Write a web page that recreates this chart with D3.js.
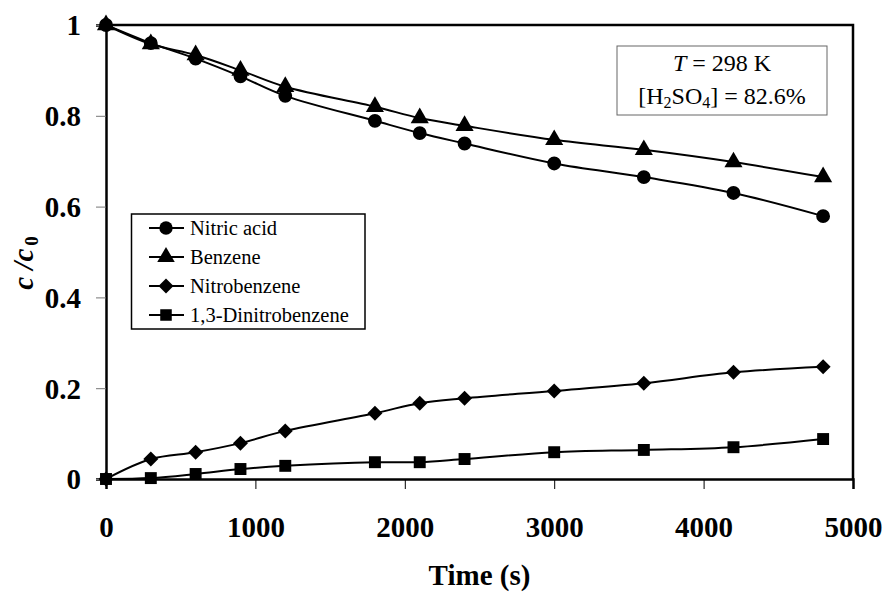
<!DOCTYPE html>
<html>
<head>
<meta charset="utf-8">
<script src="https://cdn.jsdelivr.net/npm/d3@7"></script>
<style>
  body { margin: 0; background: #fff; }
  svg text { font-family: 'Liberation Serif', 'Times New Roman', Times, 'DejaVu Serif', serif; }
</style>
</head>
<body>
<svg id="chart" width="886" height="593"></svg>
<script>
const times = [0, 300, 600, 900, 1200, 1800, 2100, 2400, 3000, 3600, 4200, 4800];
const nitricAcid = [1, 0.96, 0.926, 0.887, 0.844, 0.789, 0.762, 0.739, 0.695, 0.665, 0.63, 0.579];
const benzene = [1, 0.958, 0.934, 0.9, 0.864, 0.82, 0.795, 0.778, 0.747, 0.725, 0.698, 0.665];
const nitrobenzene = [0, 0.044, 0.059, 0.079, 0.106, 0.145, 0.167, 0.178, 0.194, 0.211, 0.235, 0.247];
const dinitrobenzene = [0, 0.002, 0.011, 0.022, 0.029, 0.037, 0.037, 0.044, 0.059, 0.064, 0.07, 0.088];
const seriesNames = ['Nitric acid', 'Benzene', 'Nitrobenzene', '1,3-Dinitrobenzene'];
const seriesShapes = ['circle', 'triangle', 'diamond', 'square'];
const xTicks = [0, 1000, 2000, 3000, 4000, 5000];
const yTicks = [0, 0.2, 0.4, 0.6, 0.8, 1];

const series = [nitricAcid, benzene, nitrobenzene, dinitrobenzene].map((vals, i) => ({
  name: seriesNames[i],
  shape: seriesShapes[i],
  points: vals.map((v, j) => ({ t: times[j], c: v })),
}));

const serif = "'Liberation Serif', 'Times New Roman', Times, 'DejaVu Serif', serif";
const svg = d3.select('#chart');
const margin = { left: 106, right: 33, top: 25, bottom: 114 };
const width = 886, height = 593;

const xScale = d3.scaleLinear().domain([0, 5000]).range([margin.left, width - margin.right]);
const yScale = d3.scaleLinear().domain([0, 1]).range([height - margin.bottom, margin.top]);

const symbolFor = (shape, size) => {
  switch (shape) {
    case 'circle': return d3.symbol(d3.symbolCircle, size)();
    case 'triangle': return d3.symbol(d3.symbolTriangle, size * 0.95)();
    case 'diamond': return 'M0,-7.5L7.5,0L0,7.5L-7.5,0Z';
    default: return d3.symbol(d3.symbolSquare, size * 0.95)();
  }
};

// frame (top + right)
svg.append('path')
  .attr('d', `M${xScale(0)},${yScale(1)}H${xScale(5000)}V${yScale(0)}`)
  .attr('fill', 'none')
  .attr('stroke', '#000')
  .attr('stroke-width', 2.5);

// y axis
const yAxis = svg.append('g')
  .attr('transform', `translate(${xScale(0)},0)`)
  .call(d3.axisLeft(yScale).tickValues(yTicks).tickSize(10).tickPadding(15).tickFormat(d3.format('~g')))
  .attr('font-family', serif);
yAxis.select('.domain').attr('stroke-width', 2.5);
yAxis.selectAll('.tick line').attr('stroke', '#777');
yAxis.selectAll('.tick text')
  .attr('font-size', 29).attr('font-weight', 'bold')
  .attr('dy', '0.34em');

// x axis
const xAxis = svg.append('g')
  .attr('transform', `translate(0,${yScale(0)})`)
  .call(d3.axisBottom(xScale).tickValues(xTicks).tickSize(10).tickPadding(0).tickFormat(d3.format('d')))
  .attr('font-family', serif);
xAxis.select('.domain').attr('stroke-width', 2.5);
xAxis.selectAll('.tick text')
  .attr('font-size', 29).attr('font-weight', 'bold')
  .attr('y', 58).attr('dy', 0);

// axis titles
svg.append('text')
  .attr('x', (xScale(0) + xScale(5000)) / 2)
  .attr('y', 585)
  .attr('text-anchor', 'middle')
  .attr('font-size', 29).attr('font-weight', 'bold')
  .text('Time (s)');

const yTitle = svg.append('text')
  .attr('transform', 'translate(33,263) rotate(-90)')
  .attr('text-anchor', 'middle')
  .attr('font-size', 29).attr('font-weight', 'bold');
yTitle.append('tspan').attr('font-style', 'italic').text('c /c');
yTitle.append('tspan').attr('font-size', 19).attr('dy', 5).attr('dx', 3).text('0');

// lines
const lineGenerator = d3.line()
  .x((d) => xScale(d.t))
  .y((d) => yScale(d.c))
  .curve(d3.curveCatmullRom.alpha(0.5));

svg.selectAll('path.line')
  .data(series)
  .join('path')
  .attr('class', 'line')
  .attr('d', (d) => lineGenerator(d.points))
  .attr('fill', 'none')
  .attr('stroke', '#000')
  .attr('stroke-width', 2);

// markers
series.forEach((s) => {
  svg.selectAll(null)
    .data(s.points)
    .join('path')
    .attr('transform', (d) => `translate(${xScale(d.t)},${yScale(d.c)})`)
    .attr('d', symbolFor(s.shape, 150))
    .attr('fill', '#000');
});

// legend
const legend = svg.append('g');
legend.append('rect')
  .attr('x', 131.5).attr('y', 214)
  .attr('width', 233.5).attr('height', 115)
  .attr('fill', '#fff')
  .attr('stroke', '#000')
  .attr('stroke-width', 1.5);
const legendItems = legend.selectAll('g.item')
  .data(series)
  .join('g')
  .attr('class', 'item')
  .attr('transform', (d, i) => `translate(0,${228 + i * 29})`);
legendItems.append('line')
  .attr('x1', 149).attr('x2', 184)
  .attr('stroke', '#000').attr('stroke-width', 2);
legendItems.append('path')
  .attr('transform', 'translate(166,0)')
  .attr('d', (d) => symbolFor(d.shape, 140))
  .attr('fill', '#000');
legendItems.append('text')
  .attr('x', 190).attr('dy', '0.33em')
  .attr('font-size', 20.5)
  .text((d) => d.name);

// condition box
const note = svg.append('g');
note.append('rect')
  .attr('x', 617).attr('y', 46)
  .attr('width', 210).attr('height', 69)
  .attr('fill', '#fff')
  .attr('stroke', '#666')
  .attr('stroke-width', 1);
const line1 = note.append('text')
  .attr('x', 722).attr('y', 71)
  .attr('text-anchor', 'middle')
  .attr('font-size', 24);
line1.append('tspan').attr('font-style', 'italic').text('T');
line1.append('tspan').text(' = 298 K');
const line2 = note.append('text')
  .attr('x', 722).attr('y', 104)
  .attr('text-anchor', 'middle')
  .attr('font-size', 24);
line2.append('tspan').text('[H');
line2.append('tspan').attr('font-size', 16).attr('dy', 4).text('2');
line2.append('tspan').attr('dy', -4).text('SO');
line2.append('tspan').attr('font-size', 16).attr('dy', 4).text('4');
line2.append('tspan').attr('dy', -4).text('] = 82.6%');
</script>
</body>
</html>
